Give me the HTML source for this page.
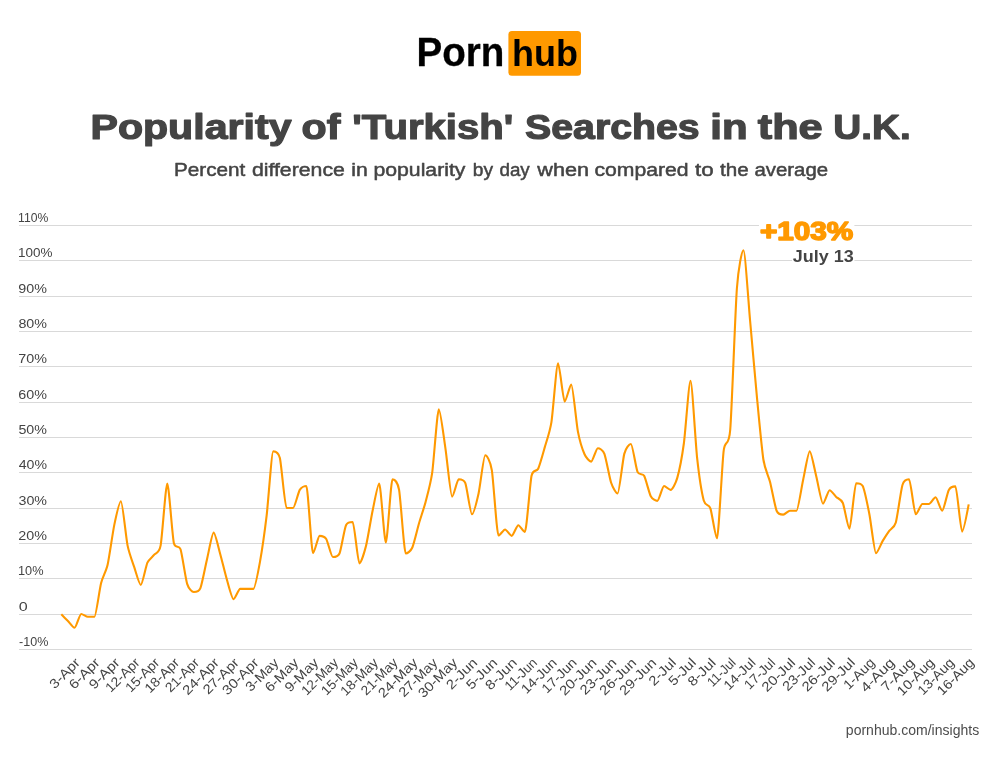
<!DOCTYPE html>
<html><head><meta charset="utf-8"><title>Popularity of 'Turkish' Searches in the U.K.</title>
<style>
html,body{margin:0;padding:0;background:#fff;}
body{width:1000px;height:760px;position:relative;overflow:hidden;font-family:"Liberation Sans",sans-serif;}
svg{position:absolute;left:0;top:0;will-change:transform;}
svg text{font-family:"Liberation Sans",sans-serif;}
</style></head><body>
<svg width="1000" height="760" viewBox="0 0 1000 760">
<rect x="508.4" y="31" width="72.6" height="44.8" rx="3.5" fill="#ff9900"/>
<g fill="#d9d9d9" shape-rendering="crispEdges"><rect x="19" y="225" width="953" height="1"/><rect x="19" y="260" width="953" height="1"/><rect x="19" y="296" width="953" height="1"/><rect x="19" y="331" width="953" height="1"/><rect x="19" y="366" width="953" height="1"/><rect x="19" y="402" width="953" height="1"/><rect x="19" y="437" width="953" height="1"/><rect x="19" y="472" width="953" height="1"/><rect x="19" y="508" width="953" height="1"/><rect x="19" y="543" width="953" height="1"/><rect x="19" y="578" width="953" height="1"/><rect x="19" y="614" width="953" height="1"/><rect x="19" y="649" width="953" height="1"/></g>
<g font-size="13.3" fill="#444"><text text-anchor="end" transform="translate(80.81 663.50) rotate(-45) scale(1.133 1)">3-Apr</text><text text-anchor="end" transform="translate(100.68 663.50) rotate(-45) scale(1.149 1)">6-Apr</text><text text-anchor="end" transform="translate(120.55 663.50) rotate(-45) scale(1.149 1)">9-Apr</text><text text-anchor="end" transform="translate(140.42 663.50) rotate(-45) scale(1.050 1)">12-Apr</text><text text-anchor="end" transform="translate(160.29 663.50) rotate(-45) scale(1.050 1)">15-Apr</text><text text-anchor="end" transform="translate(180.16 663.50) rotate(-45) scale(1.073 1)">18-Apr</text><text text-anchor="end" transform="translate(200.03 663.50) rotate(-45) scale(1.050 1)">21-Apr</text><text text-anchor="end" transform="translate(219.90 663.50) rotate(-45) scale(1.143 1)">24-Apr</text><text text-anchor="end" transform="translate(239.77 663.50) rotate(-45) scale(1.120 1)">27-Apr</text><text text-anchor="end" transform="translate(259.64 663.50) rotate(-45) scale(1.140 1)">30-Apr</text><text text-anchor="end" transform="translate(279.51 663.50) rotate(-45) scale(1.105 1)">3-May</text><text text-anchor="end" transform="translate(299.38 663.50) rotate(-45) scale(1.119 1)">6-May</text><text text-anchor="end" transform="translate(319.25 663.50) rotate(-45) scale(1.119 1)">9-May</text><text text-anchor="end" transform="translate(339.12 663.50) rotate(-45) scale(1.034 1)">12-May</text><text text-anchor="end" transform="translate(358.99 663.50) rotate(-45) scale(1.034 1)">15-May</text><text text-anchor="end" transform="translate(378.86 663.50) rotate(-45) scale(1.055 1)">18-May</text><text text-anchor="end" transform="translate(398.72 663.50) rotate(-45) scale(1.034 1)">21-May</text><text text-anchor="end" transform="translate(418.59 663.50) rotate(-45) scale(1.118 1)">24-May</text><text text-anchor="end" transform="translate(438.46 663.50) rotate(-45) scale(1.097 1)">27-May</text><text text-anchor="end" transform="translate(458.33 663.50) rotate(-45) scale(1.115 1)">30-May</text><text text-anchor="end" transform="translate(478.20 663.50) rotate(-45) scale(1.135 1)">2-Jun</text><text text-anchor="end" transform="translate(498.07 663.50) rotate(-45) scale(1.135 1)">5-Jun</text><text text-anchor="end" transform="translate(517.94 663.50) rotate(-45) scale(1.163 1)">8-Jun</text><text text-anchor="end" transform="translate(537.81 663.50) rotate(-45) scale(0.991 1)">11-Jun</text><text text-anchor="end" transform="translate(557.68 663.50) rotate(-45) scale(1.082 1)">14-Jun</text><text text-anchor="end" transform="translate(577.55 663.50) rotate(-45) scale(1.059 1)">17-Jun</text><text text-anchor="end" transform="translate(597.42 663.50) rotate(-45) scale(1.141 1)">20-Jun</text><text text-anchor="end" transform="translate(617.29 663.50) rotate(-45) scale(1.115 1)">23-Jun</text><text text-anchor="end" transform="translate(637.16 663.50) rotate(-45) scale(1.128 1)">26-Jun</text><text text-anchor="end" transform="translate(657.03 663.50) rotate(-45) scale(1.128 1)">29-Jun</text><text text-anchor="end" transform="translate(676.90 663.50) rotate(-45) scale(1.126 1)">2-Jul</text><text text-anchor="end" transform="translate(696.77 663.50) rotate(-45) scale(1.126 1)">5-Jul</text><text text-anchor="end" transform="translate(716.64 663.50) rotate(-45) scale(1.158 1)">8-Jul</text><text text-anchor="end" transform="translate(736.51 663.50) rotate(-45) scale(0.966 1)">11-Jul</text><text text-anchor="end" transform="translate(756.38 663.50) rotate(-45) scale(1.069 1)">14-Jul</text><text text-anchor="end" transform="translate(776.25 663.50) rotate(-45) scale(1.043 1)">17-Jul</text><text text-anchor="end" transform="translate(796.12 663.50) rotate(-45) scale(1.135 1)">20-Jul</text><text text-anchor="end" transform="translate(815.99 663.50) rotate(-45) scale(1.105 1)">23-Jul</text><text text-anchor="end" transform="translate(835.86 663.50) rotate(-45) scale(1.120 1)">26-Jul</text><text text-anchor="end" transform="translate(855.72 663.50) rotate(-45) scale(1.120 1)">29-Jul</text><text text-anchor="end" transform="translate(875.59 663.50) rotate(-45) scale(1.069 1)">1-Aug</text><text text-anchor="end" transform="translate(895.46 663.50) rotate(-45) scale(1.174 1)">4-Aug</text><text text-anchor="end" transform="translate(915.33 663.50) rotate(-45) scale(1.148 1)">7-Aug</text><text text-anchor="end" transform="translate(935.20 663.50) rotate(-45) scale(1.086 1)">10-Aug</text><text text-anchor="end" transform="translate(955.07 663.50) rotate(-45) scale(1.061 1)">13-Aug</text><text text-anchor="end" transform="translate(974.94 663.50) rotate(-45) scale(1.074 1)">16-Aug</text></g>
<path d="M61.31 614.30C61.31 614.30 66.36 619.42 67.93 621.01C69.51 622.61 72.98 627.73 74.56 627.73C76.13 627.73 79.60 613.95 81.18 613.95C82.76 613.95 86.23 616.77 87.80 616.77C89.38 616.77 92.85 616.77 94.43 616.77C96.00 616.77 99.47 589.43 101.05 583.20C102.63 576.97 106.10 571.41 107.67 564.47C109.25 557.53 112.72 532.42 114.30 524.89C115.87 517.36 119.34 501.21 120.92 501.21C122.50 501.21 125.97 537.56 127.54 545.39C129.12 553.21 132.59 562.23 134.17 566.94C135.74 571.66 139.21 584.97 140.79 584.97C142.37 584.97 145.84 566.28 147.41 562.70C148.99 559.13 152.46 556.99 154.04 554.93C155.61 552.87 159.08 553.89 160.66 545.39C162.24 536.89 165.71 483.54 167.28 483.54C168.86 483.54 172.33 537.26 173.91 543.27C175.48 549.27 178.95 544.44 180.53 549.27C182.11 554.11 185.58 578.82 187.15 583.91C188.73 589.00 192.20 592.04 193.78 592.04C195.35 592.04 198.82 592.04 200.40 588.15C201.98 584.26 205.44 565.77 207.02 559.17C208.60 552.56 212.07 532.66 213.64 532.66C215.22 532.66 218.69 548.63 220.27 554.22C221.85 559.82 225.31 574.32 226.89 579.67C228.47 585.01 231.94 599.10 233.51 599.10C235.09 599.10 238.56 588.86 240.14 588.86C241.71 588.86 245.18 588.86 246.76 588.86C248.34 588.86 251.81 588.86 253.38 588.86C254.96 588.86 258.43 570.35 260.01 561.64C261.58 552.93 265.05 528.83 266.63 515.70C268.21 502.58 271.68 451.38 273.25 451.38C274.83 451.38 278.30 451.38 279.88 458.10C281.45 464.81 284.92 507.93 286.50 507.93C288.08 507.93 291.55 507.93 293.12 507.93C294.70 507.93 298.17 492.51 299.75 489.90C301.32 487.29 304.79 486.02 306.37 486.02C307.95 486.02 311.42 553.16 312.99 553.16C314.57 553.16 318.04 535.85 319.62 535.85C321.19 535.85 324.66 536.50 326.24 539.03C327.82 541.55 331.29 557.05 332.86 557.05C334.44 557.05 337.91 557.05 339.49 553.52C341.06 549.98 344.53 527.72 346.11 524.89C347.69 522.06 351.15 522.06 352.73 522.06C354.31 522.06 357.78 563.41 359.36 563.41C360.93 563.41 364.40 552.36 365.98 546.09C367.56 539.83 371.02 518.20 372.60 510.75C374.18 503.31 377.65 483.54 379.22 483.54C380.80 483.54 384.27 542.56 385.85 542.56C387.42 542.56 390.89 479.30 392.47 479.30C394.05 479.30 397.52 481.07 399.09 489.90C400.67 498.74 404.14 553.52 405.72 553.52C407.29 553.52 410.76 551.08 412.34 547.51C413.92 543.93 417.39 528.90 418.96 523.48C420.54 518.05 424.01 507.98 425.59 501.92C427.16 495.86 430.63 483.61 432.21 472.59C433.79 461.56 437.26 409.33 438.83 409.33C440.41 409.33 443.88 438.16 445.46 448.56C447.03 458.95 450.50 496.62 452.08 496.62C453.66 496.62 457.13 479.30 458.70 479.30C460.28 479.30 463.75 479.30 465.33 483.19C466.90 487.08 470.37 514.29 471.95 514.29C473.53 514.29 477.00 500.46 478.57 493.44C480.15 486.41 483.62 455.27 485.20 455.27C486.77 455.27 490.24 460.56 491.82 470.11C493.40 479.66 496.87 535.49 498.44 535.49C500.02 535.49 503.49 529.48 505.07 529.48C506.64 529.48 510.11 535.85 511.69 535.85C513.27 535.85 516.73 525.24 518.31 525.24C519.89 525.24 523.36 531.96 524.93 531.96C526.51 531.96 529.98 482.84 531.56 475.77C533.13 468.70 536.60 472.11 538.18 468.70C539.76 465.29 543.23 452.70 544.80 447.14C546.38 441.59 549.85 432.02 551.43 422.05C553.00 412.08 556.47 363.39 558.05 363.39C559.63 363.39 563.10 401.55 564.67 401.55C566.25 401.55 569.72 384.59 571.30 384.59C572.87 384.59 576.34 423.30 577.92 431.59C579.50 439.88 582.97 450.63 584.54 454.21C586.12 457.79 589.59 461.63 591.17 461.63C592.74 461.63 596.21 448.20 597.79 448.20C599.37 448.20 602.84 449.78 604.41 453.86C605.99 457.94 609.46 477.77 611.04 482.48C612.61 487.19 616.08 493.44 617.66 493.44C619.24 493.44 622.71 459.75 624.28 453.86C625.86 447.97 629.33 443.96 630.91 443.96C632.48 443.96 635.95 468.09 637.53 471.88C639.11 475.67 642.58 472.86 644.15 475.77C645.73 478.67 649.20 493.28 650.78 496.26C652.35 499.25 655.82 500.86 657.40 500.86C658.98 500.86 662.44 486.02 664.02 486.02C665.60 486.02 669.07 489.90 670.64 489.90C672.22 489.90 675.69 483.44 677.27 477.89C678.85 472.33 682.31 454.82 683.89 443.25C685.47 431.68 688.94 380.70 690.51 380.70C692.09 380.70 695.56 443.83 697.14 458.10C698.71 472.36 702.18 494.53 703.76 500.51C705.34 506.48 708.81 503.78 710.38 508.28C711.96 512.78 715.43 538.32 717.01 538.32C718.58 538.32 722.05 463.99 723.63 451.03C725.21 438.07 728.68 448.82 730.25 429.47C731.83 410.12 735.30 309.80 736.88 288.47C738.45 267.13 741.92 250.30 743.50 250.30C745.08 250.30 748.55 303.73 750.12 320.98C751.70 338.23 755.17 378.70 756.75 395.19C758.32 411.68 761.79 449.20 763.37 459.51C764.95 469.82 768.42 475.67 769.99 481.77C771.57 487.88 775.04 506.87 776.62 510.75C778.19 514.64 781.66 514.64 783.24 514.64C784.82 514.64 788.29 510.75 789.86 510.75C791.44 510.75 794.91 510.75 796.49 510.75C798.06 510.75 801.53 487.08 803.11 480.01C804.69 472.94 808.15 451.38 809.73 451.38C811.31 451.38 814.78 470.60 816.36 476.83C817.93 483.05 821.40 503.69 822.98 503.69C824.56 503.69 828.02 490.26 829.60 490.26C831.18 490.26 834.65 495.46 836.22 496.97C837.80 498.49 841.27 499.19 842.85 502.98C844.42 506.77 847.89 528.78 849.47 528.78C851.05 528.78 854.52 483.19 856.09 483.19C857.67 483.19 861.14 483.19 862.72 486.02C864.29 488.84 867.76 505.94 869.34 513.93C870.92 521.93 874.39 553.16 875.96 553.16C877.54 553.16 881.01 543.80 882.59 541.15C884.16 538.50 887.63 533.13 889.21 530.90C890.79 528.67 894.26 527.89 895.83 522.42C897.41 516.95 900.88 490.09 902.46 484.96C904.03 479.82 907.50 479.30 909.08 479.30C910.66 479.30 914.13 514.29 915.70 514.29C917.28 514.29 920.75 504.04 922.33 504.04C923.90 504.04 927.37 504.04 928.95 504.04C930.53 504.04 934.00 497.32 935.57 497.32C937.15 497.32 940.62 510.75 942.20 510.75C943.77 510.75 947.24 492.81 948.82 489.90C950.40 487.00 953.87 486.37 955.44 486.37C957.02 486.37 960.49 531.60 962.07 531.60C963.64 531.60 968.69 504.39 968.69 504.39" fill="none" stroke="#ff9900" stroke-width="2.1" stroke-linejoin="round" stroke-linecap="butt"/>
<rect x="759" y="219" width="95.4" height="25" fill="#fff"/>
<rect x="792" y="246" width="62.4" height="20" fill="#fff"/>
<text transform="translate(90.47 138.60) scale(1.1987 1)" font-size="34.30" font-weight="bold" fill="#444" stroke="#444" stroke-width="1.20" stroke-linejoin="round">Popularity</text>
<text transform="translate(301.61 138.60) scale(1.1996 1)" font-size="34.30" font-weight="bold" fill="#444" stroke="#444" stroke-width="1.20" stroke-linejoin="round">of</text>
<text transform="translate(352.32 138.60) scale(1.1700 1)" font-size="34.30" font-weight="bold" fill="#444" stroke="#444" stroke-width="1.20" stroke-linejoin="round">&#39;Turkish&#39;</text>
<text transform="translate(525.06 138.60) scale(1.1446 1)" font-size="34.30" font-weight="bold" fill="#444" stroke="#444" stroke-width="1.20" stroke-linejoin="round">Searches</text>
<text transform="translate(710.30 138.60) scale(1.2243 1)" font-size="34.30" font-weight="bold" fill="#444" stroke="#444" stroke-width="1.20" stroke-linejoin="round">in</text>
<text transform="translate(757.73 138.60) scale(1.2632 1)" font-size="34.30" font-weight="bold" fill="#444" stroke="#444" stroke-width="1.20" stroke-linejoin="round">the</text>
<text transform="translate(833.35 138.60) scale(1.1280 1)" font-size="34.30" font-weight="bold" fill="#444" stroke="#444" stroke-width="1.20" stroke-linejoin="round">U.K.</text>
<text transform="translate(174.07 175.90) scale(1.0833 1)" font-size="19.10" fill="#444" stroke="#444" stroke-width="0.50" stroke-linejoin="round">Percent</text>
<text transform="translate(251.89 175.90) scale(1.1137 1)" font-size="19.10" fill="#444" stroke="#444" stroke-width="0.50" stroke-linejoin="round">difference</text>
<text transform="translate(351.36 175.90) scale(1.1091 1)" font-size="19.10" fill="#444" stroke="#444" stroke-width="0.50" stroke-linejoin="round">in</text>
<text transform="translate(373.41 175.90) scale(1.1122 1)" font-size="19.10" fill="#444" stroke="#444" stroke-width="0.50" stroke-linejoin="round">popularity</text>
<text transform="translate(472.76 175.90) scale(1.0049 1)" font-size="19.10" fill="#444" stroke="#444" stroke-width="0.50" stroke-linejoin="round">by</text>
<text transform="translate(499.46 175.90) scale(0.9850 1)" font-size="19.10" fill="#444" stroke="#444" stroke-width="0.50" stroke-linejoin="round">day</text>
<text transform="translate(537.32 175.90) scale(1.1346 1)" font-size="19.10" fill="#444" stroke="#444" stroke-width="0.50" stroke-linejoin="round">when</text>
<text transform="translate(594.38 175.90) scale(1.1092 1)" font-size="19.10" fill="#444" stroke="#444" stroke-width="0.50" stroke-linejoin="round">compared</text>
<text transform="translate(694.95 175.90) scale(1.1736 1)" font-size="19.10" fill="#444" stroke="#444" stroke-width="0.50" stroke-linejoin="round">to</text>
<text transform="translate(719.96 175.90) scale(1.0805 1)" font-size="19.10" fill="#444" stroke="#444" stroke-width="0.50" stroke-linejoin="round">the</text>
<text transform="translate(754.40 175.90) scale(1.0683 1)" font-size="19.10" fill="#444" stroke="#444" stroke-width="0.50" stroke-linejoin="round">average</text>
<text transform="translate(18.07 222.00) scale(0.9232 1)" font-size="13.20" fill="#444">110%</text>
<text transform="translate(17.97 257.00) scale(1.0222 1)" font-size="13.20" fill="#444">100%</text>
<text transform="translate(18.33 293.00) scale(1.0857 1)" font-size="13.20" fill="#444">90%</text>
<text transform="translate(18.38 328.00) scale(1.0837 1)" font-size="13.20" fill="#444">80%</text>
<text transform="translate(18.26 363.00) scale(1.0882 1)" font-size="13.20" fill="#444">70%</text>
<text transform="translate(18.27 399.00) scale(1.0879 1)" font-size="13.20" fill="#444">60%</text>
<text transform="translate(18.43 434.00) scale(1.0818 1)" font-size="13.20" fill="#444">50%</text>
<text transform="translate(18.68 469.00) scale(1.0723 1)" font-size="13.20" fill="#444">40%</text>
<text transform="translate(18.46 505.00) scale(1.0807 1)" font-size="13.20" fill="#444">30%</text>
<text transform="translate(18.28 540.00) scale(1.0876 1)" font-size="13.20" fill="#444">20%</text>
<text transform="translate(18.03 575.00) scale(0.9662 1)" font-size="13.20" fill="#444">10%</text>
<text transform="translate(18.77 611.00) scale(1.2203 1)" font-size="13.20" fill="#444">0</text>
<text transform="translate(19.04 646.00) scale(0.9510 1)" font-size="13.20" fill="#444">-10%</text>
<text transform="translate(759.91 240.20) scale(1.1283 1)" font-size="26.30" font-weight="bold" fill="#ff9900" stroke="#ff9900" stroke-width="1.60" stroke-linejoin="round">+103%</text>
<text transform="translate(792.83 262.20) scale(1.0350 1)" font-size="17.40" font-weight="bold" fill="#444">July 13</text>
<text transform="translate(845.85 735.00) scale(0.9357 1)" font-size="15.00" fill="#4c4c4c">pornhub.com/insights</text>
<text transform="translate(416.56 65.80) scale(0.9343 1)" font-size="41.30" font-weight="bold" fill="#000" stroke="#000" stroke-width="0.30" stroke-linejoin="round">Porn</text>
<text transform="translate(511.99 65.80) scale(0.9786 1)" font-size="36.80" font-weight="bold" fill="#000">hub</text>
</svg>
</body></html>
